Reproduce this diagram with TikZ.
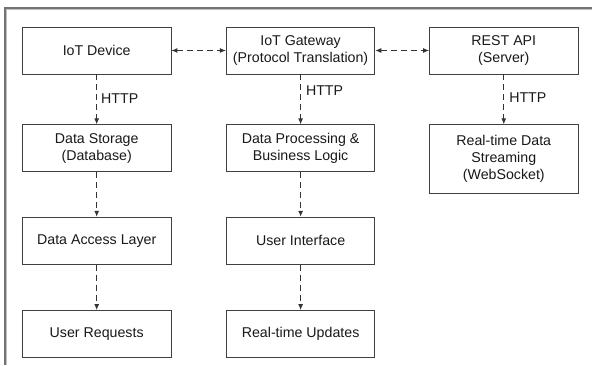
\documentclass[tikz,border=0pt]{standalone}
\usepackage{fontspec}
\setmainfont{Liberation Sans}
\usetikzlibrary{arrows.meta}
\begin{document}
\begin{tikzpicture}[x=1pt,y=-1pt,
  box/.style={draw=black!75, line width=0.9pt, minimum width=148.5pt, minimum height=47pt,
    align=center, inner sep=0pt, font=\fontsize{14.2}{17.3}\selectfont, text=black!90},
  flow/.style={draw=black!80, line width=0.9pt, dash pattern=on 6pt off 4pt,
    -{Latex[length=6pt,width=5pt]}},
  both/.style={flow, {Latex[length=6pt,width=5pt]}-{Latex[length=6pt,width=5pt]}},
  lbl/.style={anchor=west, inner sep=0pt, font=\fontsize{14.2}{17}\selectfont, text=black!90}]
\useasboundingbox (0,0) rectangle (592,365);
\fill[white] (0,0) rectangle (592,365);
% outer frame, open to the right and below
\draw[black!25, line width=1.5pt] (6.5,365) -- (6.5,9.5) -- (592,9.5);
\draw[black!55, line width=1.2pt] (5,365) -- (5,8) -- (592,8);

% left column
\node[box] (dev)  at (96.7,50.5)  {IoT Device};
\node[box] (stor) at (96.7,148.3) {Data Storage\\(Database)};
\node[box] (dal)  at (96.7,240.7) {Data Access Layer};
\node[box] (req)  at (96.7,334)   {User Requests};
% middle column
\node[box] (gw)   at (300.6,50.5)  {IoT Gateway\\(Protocol Translation)};
\node[box] (proc) at (300.6,148.3) {Data Processing \&\\Business Logic};
\node[box] (ui)   at (300.6,240.7) {User Interface};
\node[box] (upd)  at (300.6,334)   {Real-time Updates};
% right column
\node[box] (api)  at (503.8,50.5) {REST API\\(Server)};
\node[box, minimum height=68.5pt] (ws) at (503.8,159) {Real-time Data\\Streaming\\(WebSocket)};

% connectors
\draw[both] (dev) -- (gw);
\draw[both] (gw) -- (api);
\draw[flow] (dev) -- node[lbl, pos=0.49, xshift=4pt] {HTTP} (stor);
\draw[flow] (gw) -- node[lbl, pos=0.33, xshift=5pt] {HTTP} (proc);
\draw[flow] (api) -- node[lbl, pos=0.47, xshift=5pt] {HTTP} (ws);
\draw[flow] (stor) -- (dal);
\draw[flow] (dal) -- (req);
\draw[flow] (proc) -- (ui);
\draw[flow] (ui) -- (upd);
\end{tikzpicture}
\end{document}
